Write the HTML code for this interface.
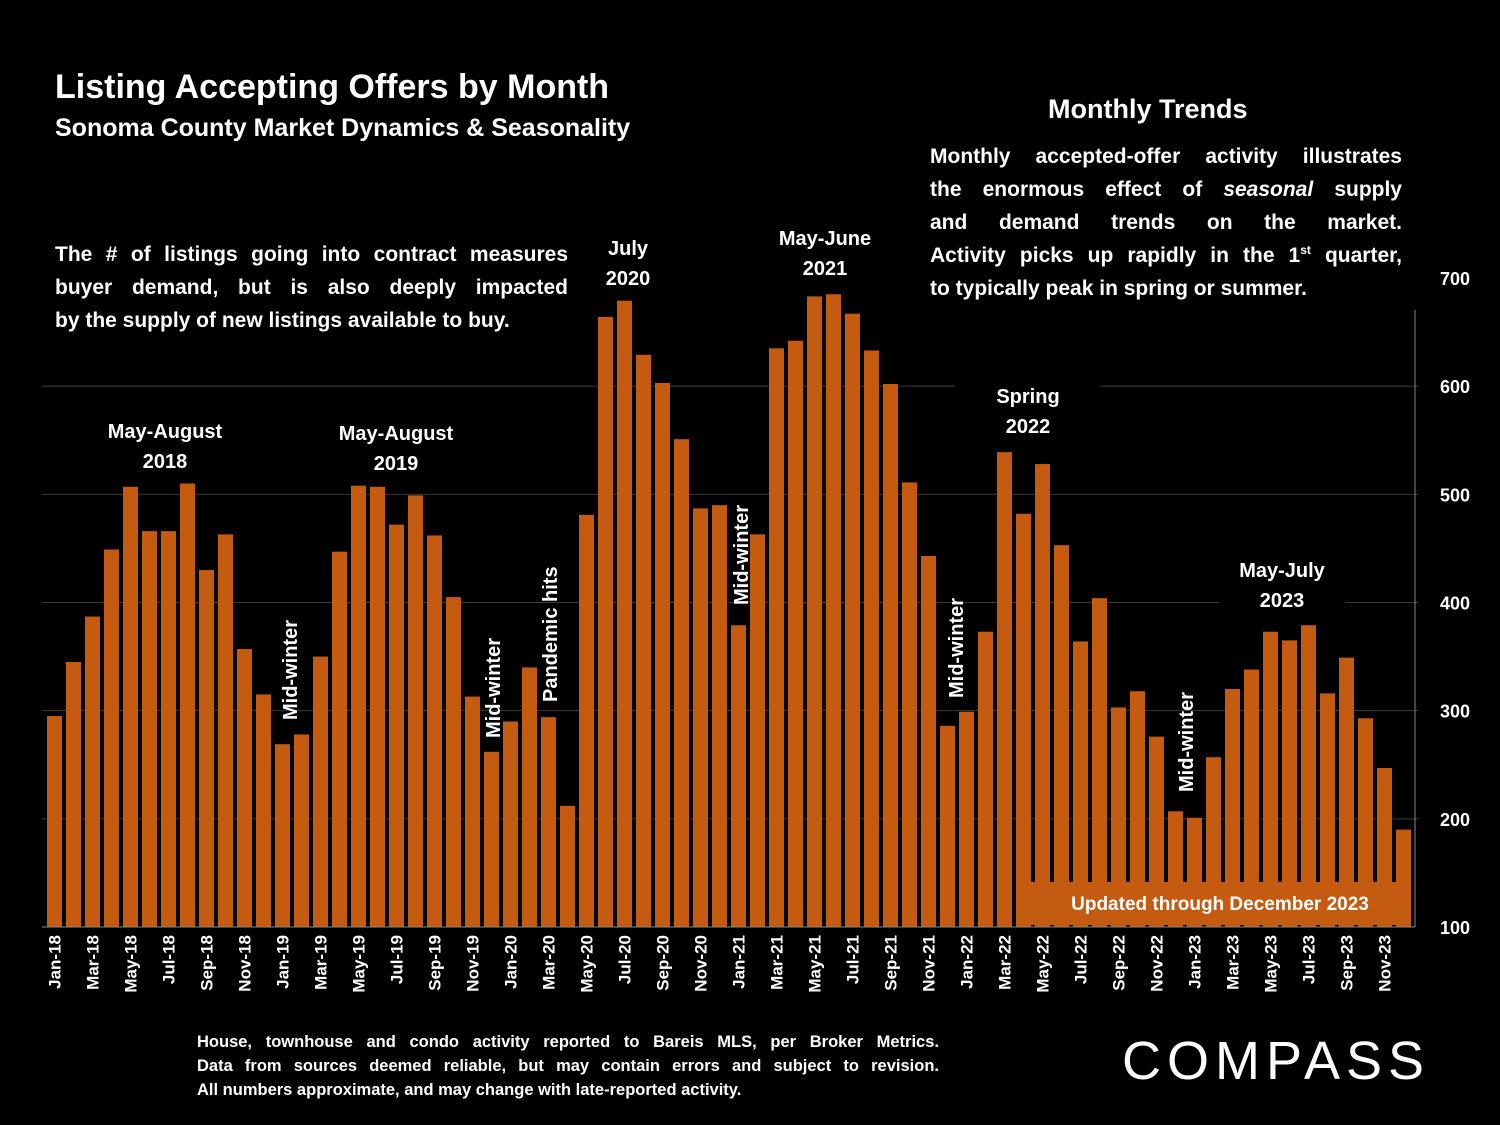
<!DOCTYPE html>
<html><head><meta charset="utf-8"><style>
body{margin:0;background:#000;width:1500px;height:1125px;overflow:hidden;font-family:"Liberation Sans",sans-serif;color:#fff;font-weight:bold}
svg text{font-family:"Liberation Sans",sans-serif;font-weight:bold;fill:#fff}
.t{position:absolute;}
.j{text-align:justify;text-align-last:justify;white-space:nowrap}
.l{text-align:left;white-space:nowrap}
</style></head><body>
<svg id="c" width="1500" height="1125" style="position:absolute;left:0;top:0"></svg>
<div class="t" style="left:55px;top:68px;font-size:34px">Listing Accepting Offers by Month</div>
<div class="t" style="left:55px;top:114px;font-size:25px">Sonoma County Market Dynamics &amp; Seasonality</div>
<div class="t" style="left:55px;top:238px;width:513px;font-size:21px;line-height:33px;background:#000">
<div class="j">The # of listings going into contract measures</div>
<div class="j">buyer demand, but is also deeply impacted</div>
<div class="l">by the supply of new listings available to buy.</div></div>
<div class="t" style="left:1048px;top:94px;font-size:27px">Monthly Trends</div>
<div class="t" style="left:930px;top:140px;width:472px;font-size:21px;line-height:33px;background:#000">
<div class="j">Monthly accepted-offer activity illustrates</div>
<div class="j">the enormous effect of <i>seasonal</i> supply</div>
<div class="j">and demand trends on the market.</div>
<div class="j">Activity picks up rapidly in the 1<sup style="font-size:12px;line-height:0">st</sup> quarter,</div>
<div class="l">to typically peak in spring or summer.</div></div>
<div class="t" style="left:197px;top:1030px;width:742px;font-size:16.5px;line-height:24px">
<div class="j">House, townhouse and condo activity reported to Bareis MLS, per Broker Metrics.</div>
<div class="j">Data from sources deemed reliable, but may contain errors and subject to revision.</div>
<div class="l">All numbers approximate, and may change with late-reported activity.</div></div>
<div class="t" style="left:1122px;top:1030px;font-size:54px;font-weight:normal;letter-spacing:6px">COMPASS</div>
<script>
const months=["Jan","Feb","Mar","Apr","May","Jun","Jul","Aug","Sep","Oct","Nov","Dec"];
const years=["18","19","20","21","22","23"];
const values=[295,345,387,449,507,466,466,510,430,463,357,315,
269,278,350,447,508,507,472,499,462,405,313,262,
290,340,294,212,481,664,679,629,603,551,487,490,
379,463,635,642,683,685,667,633,602,511,443,286,
299,373,539,482,528,453,364,404,303,318,276,207,
201,257,320,338,373,365,379,316,349,293,247,190];
const yTicks=[100,200,300,400,500,600,700];
const NS="http://www.w3.org/2000/svg",svg=document.getElementById('c');
const x0=47,step=19,bw=15;
const y=v=>927-(v-100)*649/600;
const xc=i=>x0+step*i+bw/2;
function mk(t,a){const e=document.createElementNS(NS,t);for(const k in a)e.setAttribute(k,a[k]);svg.appendChild(e);return e;}
yTicks.forEach(v=>{
 if(v>100&&v<700){const g=mk('line',{x1:42,x2:1418,y1:y(v),y2:y(v),stroke:'#3a3a3a','stroke-width':1});
 
 }
 const t=mk('text',{x:1440,y:y(v)+7,'font-size':18,'text-anchor':'start'});t.textContent=v;
 
 
});
const ax=mk('line',{x1:1415,x2:1415,y1:310,y2:927,stroke:'#888','stroke-width':1});


values.forEach((v,i)=>{
 const r=mk('rect',{x:x0+step*i,y:y(v),width:bw,height:927-y(v),fill:'#c55a11'});
 
 
 if(i%2==0){const lx=xc(i)+6,ly=935;
  const t=mk('text',{x:lx,y:ly,'font-size':17,'text-anchor':'end',transform:`rotate(-90 ${lx} ${ly})`});
  t.textContent=months[i%12]+'-'+years[Math.floor(i/12)];
  
  }
});
const xa=mk('line',{x1:42,x2:1415,y1:927,y2:927,stroke:'#888','stroke-width':1});


function lab(lines,cx,top,bg){
 if(bg)mk('rect',{x:bg[0],y:bg[1],width:bg[2],height:bg[3],fill:'#000'});
 lines.forEach((s,k)=>{const t=mk('text',{x:cx,y:top+k*30,'font-size':20,'text-anchor':'middle'});t.textContent=s;
 
 });
}
lab(["May-August","2018"],165,438,[95,410,140,65]);
lab(["May-August","2019"],396,440,[325,412,145,65]);
lab(["July","2020"],628,255,null);
lab(["May-June","2021"],825,245,null);
lab(["Spring","2022"],1028,403,[955,375,145,65]);
lab(["May-July","2023"],1282,577,[1220,550,125,65]);
function vlab(s,cx,by){const t=mk('text',{x:cx,y:by,'font-size':20,'text-anchor':'start',transform:`rotate(-90 ${cx} ${by})`});t.textContent=s;
 
 }
vlab("Mid-winter",297,720);vlab("Mid-winter",500,738);vlab("Pandemic hits",557,702);
vlab("Mid-winter",748,605);vlab("Mid-winter",963,698);vlab("Mid-winter",1193,792);
const ub=mk('rect',{x:1030,y:882,width:380,height:43,fill:'#c55a11'});


const ut=mk('text',{x:1220,y:910,'font-size':19,'text-anchor':'middle'});ut.textContent="Updated through December 2023";


</script>
</body></html>
